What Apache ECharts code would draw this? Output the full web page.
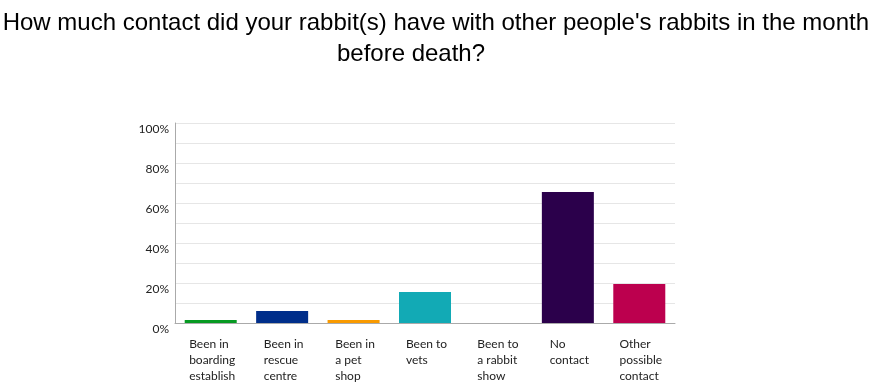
<!DOCTYPE html>
<html><head><meta charset="utf-8">
<script src="https://cdn.jsdelivr.net/npm/echarts@6/dist/echarts.min.js"></script>
<style>html,body{margin:0;padding:0;background:#fff}#c{width:883px;height:391px}</style>
</head><body><div id="c"></div>
<script>
const titleLine1 = "How much contact did your rabbit(s) have with other people's rabbits in the month";
const titleLine2 = "before death?";
const categories = [
  ["Been in", "boarding", "establish"],
  ["Been in", "rescue", "centre"],
  ["Been in", "a pet", "shop"],
  ["Been to", "vets"],
  ["Been to", "a rabbit", "show"],
  ["No", "contact"],
  ["Other", "possible", "contact"]
];
const values = [1.5, 6, 1.5, 15.5, 0, 65.5, 19.5];
const colors = ["#069a22", "#002e8a", "#f99a00", "#12aab5", "#2b004b", "#2b004b", "#bc004e"];
const yTicks = [0, 20, 40, 60, 80, 100];

const chart = echarts.init(document.getElementById('c'), null, {renderer: 'canvas'});
const titleStyle = {fontFamily: 'Liberation Sans', fontSize: 24, fontWeight: 'normal', color: '#000'};
chart.setOption({
  animation: false,
  title: [
    {text: titleLine1, right: 14, top: 11, padding: 0, textStyle: titleStyle},
    {text: titleLine2, left: 411, textAlign: 'center', top: 42, padding: 0, textStyle: titleStyle}
  ],
  grid: {left: 175, right: 208, top: 123, bottom: 68, containLabel: false},
  xAxis: {
    type: 'category',
    data: categories.map(c => c.join('\n')),
    axisLine: {lineStyle: {color: '#aaa', width: 1}},
    axisTick: {show: false},
    axisLabel: {
      interval: 0, margin: 13,
      formatter: v => v.split('\n').map(s => '{a|' + s + '}').join('\n'),
      rich: {a: {align: 'left', fontFamily: 'Lato', fontSize: 12, color: '#222', lineHeight: 16, padding: [0, 0, 0, 3]}}
    }
  },
  yAxis: {
    type: 'value', min: 0, max: 100, interval: 10,
    axisLine: {show: true, lineStyle: {color: '#aaa'}},
    axisTick: {show: false},
    splitLine: {lineStyle: {color: '#e6e6e6'}},
    axisLabel: {
      margin: 6, fontFamily: 'Lato', fontSize: 12, color: '#222', verticalAlign: 'top',
      formatter: v => yTicks.includes(v) ? v + '%' : ''
    }
  },
  series: [{
    type: 'bar',
    barWidth: 52,
    data: values.map((v, i) => ({value: v, itemStyle: {color: colors[i]}}))
  }]
});
</script></body></html>
